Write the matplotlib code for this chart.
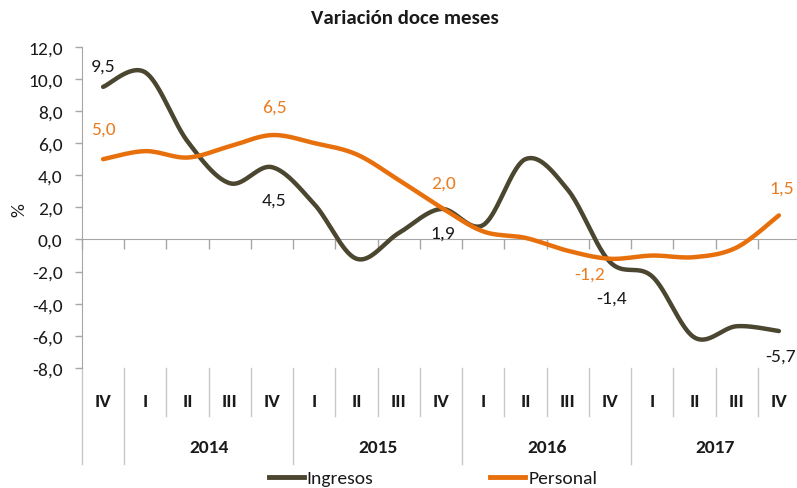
import numpy as np
import matplotlib
matplotlib.use("Agg")
import matplotlib.pyplot as plt
from matplotlib.lines import Line2D

plt.rcParams['font.family'] = ['Carlito', 'DejaVu Sans']

quarters = ['IV', 'I', 'II', 'III', 'IV', 'I', 'II', 'III', 'IV',
            'I', 'II', 'III', 'IV', 'I', 'II', 'III', 'IV']
years = ['2014', '2015', '2016', '2017']
ingresos = [9.5, 10.4, 6.1, 3.5, 4.5, 2.2, -1.2, 0.4, 1.9,
            0.9, 5.0, 3.1, -1.4, -2.3, -6.1, -5.4, -5.7]
personal = [5.0, 5.5, 5.1, 5.8, 6.5, 6.0, 5.3, 3.7, 2.0,
            0.5, 0.1, -0.7, -1.2, -1.0, -1.1, -0.5, 1.5]

c_ing = '#4a4630'
c_per = '#e8700c'
c_per_lbl = '#ea7d22'
grey = '#a6a6a6'
txt_c = '#1a1a1a'
fs = 14


def smooth(xs, ys, n=40):
    # excel-like smoothing: bezier segments with catmull-rom handles
    xs = np.asarray(xs, float)
    ys = np.asarray(ys, float)
    P = np.column_stack([xs, ys])
    out = []
    for i in range(len(P) - 1):
        p0 = P[i - 1] if i > 0 else P[i]
        p1 = P[i]
        p2 = P[i + 1]
        p3 = P[i + 2] if i + 2 < len(P) else P[i + 1]
        c1 = p1 + (p2 - p0) / 6.0
        c2 = p2 - (p3 - p1) / 6.0
        t = np.linspace(0, 1, n)[:, None]
        seg = ((1 - t) ** 3) * p1 + 3 * ((1 - t) ** 2) * t * c1 \
            + 3 * (1 - t) * t ** 2 * c2 + t ** 3 * p2
        out.append(seg if i == 0 else seg[1:])
    out = np.vstack(out)
    return out[:, 0], out[:, 1]


def fmt(v):
    return ('%.1f' % v).replace('.', ',')


fig = plt.figure(figsize=(7.97, 4.89), dpi=100)
ax = fig.add_axes([82 / 797, 1 - 369 / 489, 718 / 797, 321.3 / 489])

x = np.arange(len(quarters))
sx, sy = smooth(x, ingresos)
ax.plot(sx, sy, color=c_ing, lw=3.2, solid_capstyle='round', zorder=3)
sx, sy = smooth(x, personal)
ax.plot(sx, sy, color=c_per, lw=3.2, solid_capstyle='round', zorder=4)

ax.set_xlim(-0.5, len(quarters) - 0.5)
ax.set_ylim(-8, 12)
yt = np.arange(-8, 13, 2)
ax.set_yticks(yt)
ax.set_yticklabels([fmt(v) for v in yt])
ax.tick_params(axis='y', length=5, width=1, color=grey, pad=9,
               labelsize=fs, labelcolor=txt_c)

ax.spines['top'].set_visible(False)
ax.spines['right'].set_visible(False)
ax.spines['left'].set_color(grey)
ax.spines['bottom'].set_color(grey)
ax.spines['bottom'].set_position(('data', 0))
ax.set_xticks(np.arange(-0.5, len(quarters), 1.0))
ax.set_xticklabels([])
ax.tick_params(axis='x', length=7, width=1, color=grey, direction='out')

ax.set_ylabel('%', fontsize=fs, color=txt_c)
ax.yaxis.set_label_coords(-0.076, 0.495)

# value labels
lbl_ing = {0: (0, 1.3), 4: (0.05, -2.05), 8: (0.05, -1.5), 12: (0.05, -2.2), 16: (0.05, -1.55)}
lbl_per = {0: (0, 1.87), 4: (0.05, 1.75), 8: (0.05, 1.56), 12: (-0.47, -0.93), 16: (0.07, 1.75)}
for i, (dx, dy) in lbl_ing.items():
    ax.text(x[i] + dx, ingresos[i] + dy, fmt(ingresos[i]), color=txt_c,
            fontsize=fs, ha='center', va='center', zorder=5)
for i, (dx, dy) in lbl_per.items():
    ax.text(x[i] + dx, personal[i] + dy, fmt(personal[i]), color=c_per_lbl,
            fontsize=fs, ha='center', va='center', zorder=5)

# category axis below the plot
tr = ax.get_xaxis_transform()
for i, q in enumerate(quarters):
    ax.text(x[i], -0.103, q, transform=tr, ha='center', va='center',
            fontsize=fs, fontweight='bold', color=txt_c)
for b in np.arange(-0.5, len(quarters), 1.0):
    k = int(b + 0.5)
    if k == 0 or k == 1 or (k - 1) % 4 == 0:
        y1 = -0.299
    else:
        y1 = -0.149
    ax.add_line(Line2D([b, b], [0, y1], transform=tr, color='#c8c8c8',
                       lw=1, clip_on=False))
for j, yr in enumerate(years):
    ax.text(1 + 4 * j + 1.5, -0.246, yr, transform=tr, ha='center',
            va='center', fontsize=fs, fontweight='bold', color=txt_c)

fig.text(0.508, 1 - 19 / 489, 'Variación doce meses', ha='center',
         va='center', fontsize=15, fontweight='bold', color=txt_c)

handles = [Line2D([], [], color=c_ing, lw=3.5), Line2D([], [], color=c_per, lw=3.5)]
fig.legend(handles, ['Ingresos', 'Personal'], loc='center',
           bbox_to_anchor=(433 / 797, 1 - 479 / 489), ncol=2, frameon=False,
           fontsize=fs, handlelength=1.8, handletextpad=0.15,
           columnspacing=6.0, borderpad=0, labelcolor=txt_c)

fig.savefig('out.png', dpi=100)
